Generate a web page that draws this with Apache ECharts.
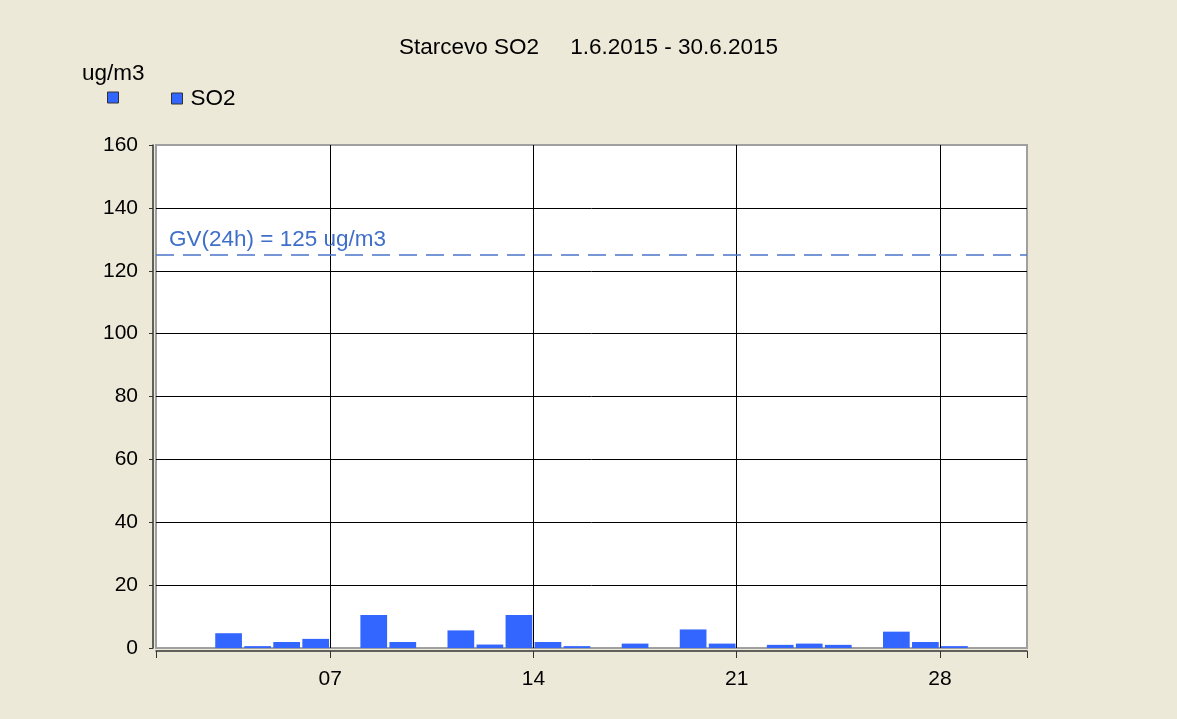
<!DOCTYPE html>
<html>
<head>
<meta charset="utf-8">
<script src="https://cdn.jsdelivr.net/npm/echarts@6/dist/echarts.min.js"></script>
<style>
  html, body { margin: 0; padding: 0; background: #ECE9D8; }
  #main { width: 1177px; height: 719px; }
</style>
</head>
<body>
<div id="main"></div>
<script>
// daily means, June 2015 (null = no data)
var days = [];
for (var i = 1; i <= 30; i++) {
    days.push(i < 10 ? '0' + i : '' + i);
}
var so2 = [null, null, 4.7, 0.6, 1.9, 2.9, null, 10.5, 1.9, null,
           5.6, 1.1, 10.5, 1.9, 0.6, null, 1.4, null, 5.9, 1.4,
           null, 1.0, 1.4, 1.0, null, 5.2, 1.9, 0.6, null, null];
var tickDays = [1, 7, 14, 21, 28, 31];
var labelDays = [7, 14, 21, 28];
var limitValue = 125;
var limitLabel = 'GV(24h) = 125 ug/m3';

var font = 'Liberation Sans, Arial, sans-serif';
var barColor = '#3366FF';
var limitColor = '#3F6FC8';

var chart = echarts.init(document.getElementById('main'));

var option = {
    backgroundColor: '#ECE9D8',
    animation: false,
    textStyle: { fontFamily: font },
    title: [
        {
            text: 'Starcevo SO2     1.6.2015 - 30.6.2015',
            left: 'center',
            top: 31,
            textStyle: { fontFamily: font, fontSize: 22.5, fontWeight: 'normal', color: '#000' }
        },
        {
            text: 'ug/m3',
            left: 77,
            top: 57,
            textStyle: { fontFamily: font, fontSize: 22.5, fontWeight: 'normal', color: '#000' }
        }
    ],
    legend: [
        {
            data: [' '],
            left: 102,
            top: 81,
            icon: 'rect',
            itemWidth: 11,
            itemHeight: 11,
            itemStyle: { color: barColor, borderColor: '#333', borderWidth: 1 },
            textStyle: { fontFamily: font, fontSize: 22.5, color: '#000' }
        },
        {
            data: ['SO2'],
            left: 166,
            top: 82,
            icon: 'rect',
            itemWidth: 11,
            itemHeight: 11,
            itemStyle: { color: barColor, borderColor: '#333', borderWidth: 1 },
            textStyle: { fontFamily: font, fontSize: 22.5, color: '#000', padding: [0, 0, 0, 3] }
        }
    ],
    grid: {
        left: 156,
        right: 150,
        top: 145,
        bottom: 71,
        show: true,
        backgroundColor: '#fff',
        borderColor: '#a0a0a0',
        borderWidth: 2,
        outerBoundsMode: 'none'
    },
    xAxis: [
        {
            type: 'category',
            data: days,
            show: false,
            boundaryGap: true
        },
        {
            type: 'value',
            position: 'bottom',
            offset: 3,
            min: 1,
            max: 31,
            axisLine: { show: true, lineStyle: { color: '#333', width: 1.5 } },
            axisTick: { show: true, customValues: tickDays, length: 7, lineStyle: { color: '#333' } },
            axisLabel: {
                customValues: labelDays,
                fontFamily: font,
                fontSize: 21,
                color: '#000',
                margin: 18,
                formatter: function (v) { return v < 10 ? '0' + v : '' + v; }
            },
            splitLine: { show: true, showMinLine: false, showMaxLine: false, lineStyle: { color: '#000', width: 1 } }
        }
    ],
    yAxis: {
        type: 'value',
        min: 0,
        max: 160,
        interval: 20,
        offset: 3,
        axisLine: { show: true, lineStyle: { color: '#333', width: 1.5 } },
        axisTick: { show: true, length: 4, lineStyle: { color: '#333' } },
        axisLabel: { fontFamily: font, fontSize: 21, color: '#000', margin: 15 },
        splitLine: { show: true, showMinLine: false, showMaxLine: false, lineStyle: { color: '#000', width: 1 } }
    },
    series: [
        {
            name: ' ',
            type: 'line',
            xAxisIndex: 0,
            data: [],
            itemStyle: { color: barColor }
        },
        {
            name: 'SO2',
            type: 'bar',
            xAxisIndex: 0,
            data: so2,
            barCategoryGap: '8%',
            itemStyle: { color: barColor },
            markLine: {
                silent: true,
                symbol: 'none',
                lineStyle: { color: '#4A74C8', type: [18, 9], width: 1.5 },
                label: {
                    show: true,
                    position: 'insideStartTop',
                    formatter: limitLabel,
                    fontFamily: font,
                    fontSize: 22.5,
                    color: limitColor,
                    distance: [13, 4]
                },
                data: [{ yAxis: limitValue }]
            }
        }
    ]
};

chart.setOption(option);
</script>
</body>
</html>
